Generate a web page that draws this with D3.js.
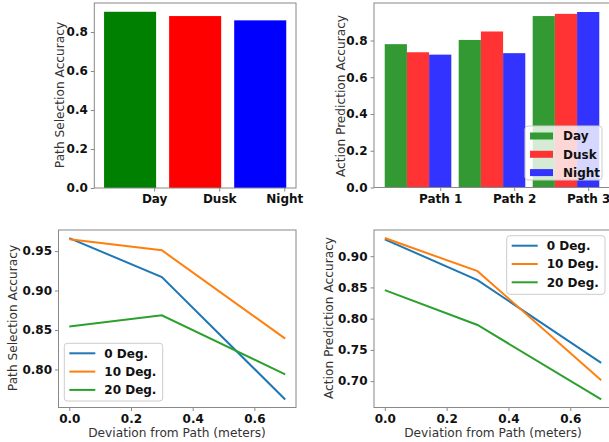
<!DOCTYPE html>
<html>
<head>
<meta charset="utf-8">
<script src="https://cdn.jsdelivr.net/npm/d3@7"></script>
<style>
  body { margin: 0; background: #fff; }
  svg { display: block; font-family: "DejaVu Sans", sans-serif; }
</style>
</head>
<body>
<svg id="chart" width="609" height="442"></svg>
<script>
// top-left: path selection by light condition
const lightConditions = ["Day", "Dusk", "Night"];
const pathSelectionByLight = [0.904, 0.882, 0.860];

// top-right: action prediction by path and light
const paths = ["Path 1", "Path 2", "Path 3"];
const actionDay = [0.780, 0.803, 0.933];
const actionDusk = [0.736, 0.849, 0.945];
const actionNight = [0.723, 0.731, 0.955];

// bottom: accuracy vs deviation
const deviations = [0.0, 0.3, 0.7];
const angleLabels = ["0 Deg.", "10 Deg.", "20 Deg."];
const pathSel0 = [0.9665, 0.917, 0.762];
const pathSel10 = [0.965, 0.951, 0.839];
const pathSel20 = [0.8545, 0.8686, 0.7937];
const action0 = [0.927, 0.8616, 0.7293];
const action10 = [0.929, 0.876, 0.7016];
const action20 = [0.8456, 0.7899, 0.6707];

const yTicksBar = [0.0, 0.2, 0.4, 0.6, 0.8];
const yTicksPathSel = [0.80, 0.85, 0.90, 0.95];
const yTicksAction = [0.70, 0.75, 0.80, 0.85, 0.90];
const xTicksDev = [0.0, 0.2, 0.4, 0.6];

const lineColors = ["#1f77b4", "#ff7f0e", "#2ca02c"];
const frameColor = "#888";

const svg = d3.select("#chart");

function drawAxes(g, x, y, xTicks, xFmt, yTicks, yFmt) {
    const [x0, x1] = x.range();
    const [y0, y1] = y.range();
    const ya = g.append("g").attr("transform", `translate(${x0},0)`)
        .call(d3.axisLeft(y).tickValues(yTicks).tickFormat(yFmt).tickSize(3.5).tickPadding(3));
    const xa = g.append("g").attr("transform", `translate(0,${y0})`)
        .call(d3.axisBottom(x).tickValues(xTicks).tickFormat(xFmt).tickSize(3.5).tickPadding(3));
    [ya, xa].forEach(a => {
        // d3 puts its own font on the axis group, drop it
        a.attr("font-family", null).attr("font-size", null);
        a.select(".domain").remove();
        a.selectAll(".tick line").attr("stroke", frameColor);
        a.selectAll(".tick text").attr("fill", "#111").attr("font-size", 12).attr("font-weight", "bold");
    });
    g.append("rect")
        .attr("x", x0).attr("y", y1)
        .attr("width", x1 - x0).attr("height", y0 - y1)
        .attr("fill", "none").attr("stroke", frameColor).attr("stroke-width", 1);
}

function yLabel(g, text, x, yMid) {
    g.append("text")
        .attr("transform", `translate(${x},${yMid}) rotate(-90)`)
        .attr("text-anchor", "middle")
        .attr("font-size", 12.2).attr("fill", "#333")
        .text(text);
}

function xLabel(g, text, xMid, y) {
    g.append("text")
        .attr("x", xMid).attr("y", y)
        .attr("text-anchor", "middle")
        .attr("font-size", 12.2).attr("fill", "#333")
        .text(text);
}

function legend(g, x, y, w, h, labels, colors, kind) {
    const lg = g.append("g").attr("transform", `translate(${x},${y})`);
    lg.append("rect").attr("width", w).attr("height", h).attr("rx", 3)
        .attr("fill", "white").attr("fill-opacity", 0.8)
        .attr("stroke", "#ccc").attr("stroke-width", 1);
    labels.forEach((lab, i) => {
        const cy = 10 + i * 18.3;
        if (kind === "bar") {
            lg.append("rect").attr("x", 5).attr("y", cy - 3.5)
                .attr("width", 23).attr("height", 7)
                .attr("fill", colors[i]);
        } else {
            lg.append("line").attr("x1", 5).attr("x2", 31)
                .attr("y1", cy).attr("y2", cy)
                .attr("stroke", colors[i]).attr("stroke-width", 2);
        }
        lg.append("text").attr("x", kind === "bar" ? 38 : 40).attr("y", cy + 4.3)
            .attr("font-size", 12).attr("font-weight", "bold").attr("fill", "#111")
            .text(lab);
    });
}

// ---- Panel 1 ----
{
    const g = svg.append("g");
    const x = d3.scaleLinear().domain([-0.55, 2.55]).range([94.3, 296]);
    const y = d3.scaleLinear().domain([0, 0.949]).range([188, 3]);
    const colors = ["#008000", "#ff0000", "#0000ff"];
    g.selectAll("rect.bar").data(pathSelectionByLight).enter().append("rect")
        .attr("class", "bar")
        .attr("x", (d, i) => x(i - 0.4))
        .attr("width", x(0.8) - x(0))
        .attr("y", d => y(d))
        .attr("height", d => y(0) - y(d))
        .attr("fill", (d, i) => colors[i]);
    drawAxes(g, x, y, [0.37, 1.37, 2.37], (d, i) => lightConditions[i], yTicksBar, d3.format(".1f"));
    yLabel(g, "Path Selection Accuracy", 63.5, 95);
}

// ---- Panel 2 ----
{
    const g = svg.append("g");
    const x = d3.scaleLinear().domain([-0.295, 2.895]).range([374, 610]);
    const y = d3.scaleLinear().domain([0, 1.004]).range([187.5, 3]);
    const series = [actionDay, actionDusk, actionNight];
    const colors = ["#339933", "#ff3333", "#3333ff"];
    const bw = 0.3;
    series.forEach((vals, j) => {
        g.selectAll(`rect.s${j}`).data(vals).enter().append("rect")
            .attr("class", `s${j}`)
            .attr("x", (d, i) => x(i + j * bw - bw / 2))
            .attr("width", x(bw) - x(0))
            .attr("y", d => y(d))
            .attr("height", d => y(0) - y(d))
            .attr("fill", colors[j]);
    });
    drawAxes(g, x, y, [0.6, 1.6, 2.6], (d, i) => paths[i], yTicksBar, d3.format(".1f"));
    yLabel(g, "Action Prediction Accuracy", 344.5, 96);
    legend(g, 525, 126, 77, 54, lightConditions, colors, "bar");
}

// ---- Panel 3 ----
{
    const g = svg.append("g");
    const x = d3.scaleLinear().domain([-0.035, 0.735]).range([58.5, 296]);
    const y = d3.scaleLinear().domain([0.7518, 0.9767]).range([407.5, 230]);
    const line = d3.line().x((d, i) => x(deviations[i])).y(d => y(d));
    [pathSel0, pathSel10, pathSel20].forEach((vals, k) => {
        g.append("path").datum(vals).attr("d", line)
            .attr("fill", "none").attr("stroke", lineColors[k]).attr("stroke-width", 2);
    });
    drawAxes(g, x, y, xTicksDev, d3.format(".1f"), yTicksPathSel, d3.format(".2f"));
    yLabel(g, "Path Selection Accuracy", 17, 318);
    xLabel(g, "Deviation from Path (meters)", 177, 436.5);
    legend(g, 64.3, 343.3, 98.4, 57.7, angleLabels, lineColors, "line");
}

// ---- Panel 4 ----
{
    const g = svg.append("g");
    const x = d3.scaleLinear().domain([-0.035, 0.735]).range([374, 612]);
    const y = d3.scaleLinear().domain([0.6578, 0.9419]).range([407.5, 230]);
    const line = d3.line().x((d, i) => x(deviations[i])).y(d => y(d));
    [action0, action10, action20].forEach((vals, k) => {
        g.append("path").datum(vals).attr("d", line)
            .attr("fill", "none").attr("stroke", lineColors[k]).attr("stroke-width", 2);
    });
    drawAxes(g, x, y, xTicksDev, d3.format(".1f"), yTicksAction, d3.format(".2f"));
    yLabel(g, "Action Prediction Accuracy", 333, 318);
    xLabel(g, "Deviation from Path (meters)", 493, 436.5);
    legend(g, 506.7, 235.7, 98.3, 58.6, angleLabels, lineColors, "line");
}
</script>
</body>
</html>
